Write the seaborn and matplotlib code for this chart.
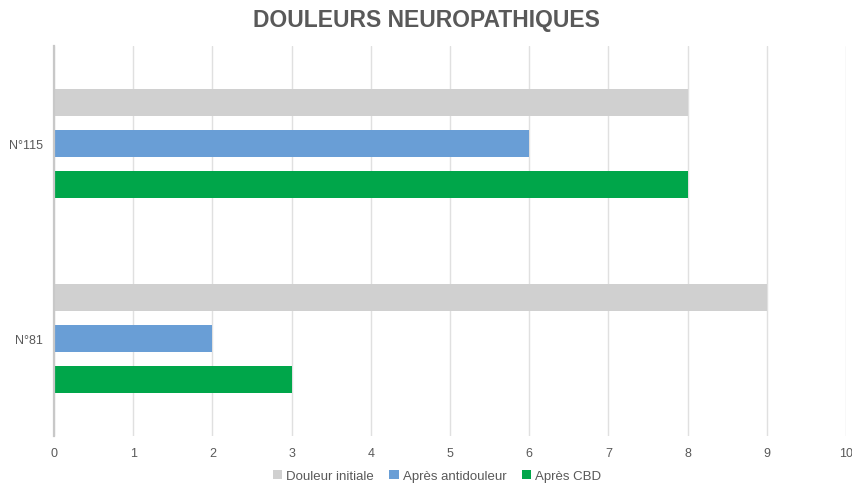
import pandas as pd
import matplotlib.pyplot as plt
import seaborn as sns

patients = ['N°115', 'N°81']
series = ['Douleur initiale', 'Après antidouleur', 'Après CBD']
douleur_initiale = [8, 9]
apres_antidouleur = [6, 2]
apres_cbd = [8, 3]
colors = ['#D0D0D0', '#699ED6', '#00A64A']

rows = []
for s, vals in zip(series, [douleur_initiale, apres_antidouleur, apres_cbd]):
    for p, v in zip(patients, vals):
        rows.append({'Patient': p, 'Série': s, 'Valeur': v})
df = pd.DataFrame(rows)

sns.set_style('white')
plt.rcParams['font.family'] = ['Liberation Sans', 'DejaVu Sans']

fig = plt.figure(figsize=(8.53, 4.85), dpi=100)
ax = fig.add_axes([54 / 853, 1 - 437 / 485, 792 / 853, 390 / 485])

sns.barplot(data=df, y='Patient', x='Valeur', hue='Série', order=patients,
            hue_order=series, palette=colors, orient='h', width=0.63, gap=0.36,
            saturation=1, linewidth=0, ax=ax, legend=True)

ax.set_xlim(0, 10)
ax.set_ylim(1.5, -0.5)
ax.set_xticks(range(0, 11))
ax.xaxis.grid(True, color='#E0E0E0', linewidth=1)
ax.yaxis.grid(False)
ax.set_axisbelow(True)
for side in ['top', 'right', 'bottom']:
    ax.spines[side].set_visible(False)
ax.spines['left'].set_color('#C8C8C8')
ax.spines['left'].set_linewidth(1.6)
ax.tick_params(axis='both', length=0, labelsize=9, labelcolor='#595959')
ax.tick_params(axis='x', pad=8)
ax.tick_params(axis='y', pad=8)
ax.set_xlabel('')
ax.set_ylabel('')

fig.suptitle('DOULEURS NEUROPATHIQUES', fontsize=16.5, fontweight='bold',
             color='#595959', y=1 - 21 / 485, va='center')

handles, labels = ax.get_legend_handles_labels()
ax.get_legend().remove()
fig.legend(handles, labels, loc='center', bbox_to_anchor=(437 / 853, 1 - 477 / 485),
           ncol=3, frameon=False, fontsize=9.5, handlelength=0.7, handleheight=0.7,
           handletextpad=0.3, columnspacing=1.2, labelcolor='#595959')

fig.savefig('out.png', dpi=100)
